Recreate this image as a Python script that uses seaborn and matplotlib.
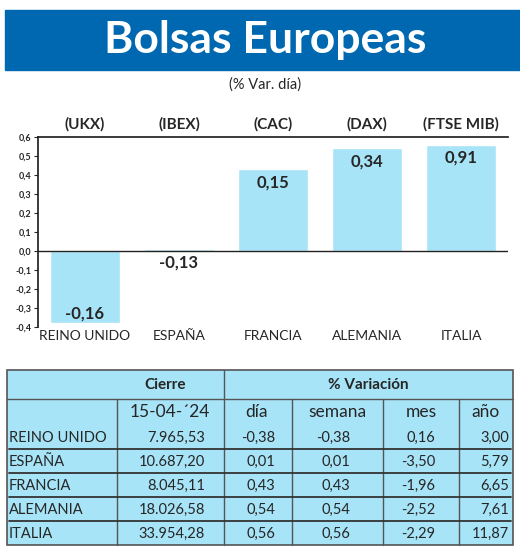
import matplotlib
matplotlib.use("Agg")
import matplotlib.pyplot as plt
import seaborn as sns
import pandas as pd
from matplotlib.patches import Rectangle

sns.set_theme(style="white")
plt.rcParams['font.family'] = ['Lato', 'DejaVu Sans']

countries = ["REINO UNIDO", "ESPAÑA", "FRANCIA", "ALEMANIA", "ITALIA"]
indices = ["(UKX)", "(IBEX)", "(CAC)", "(DAX)", "(FTSE MIB)"]
dia = [-0.38, 0.01, 0.43, 0.54, 0.56]
bar_labels = ["-0,16", "-0,13", "0,15", "0,34", "0,91"]
cierre = ["7.965,53", "10.687,20", "8.045,11", "18.026,58", "33.954,28"]
dia_txt = ["-0,38", "0,01", "0,43", "0,54", "0,56"]
semana = ["-0,38", "0,01", "0,43", "0,54", "0,56"]
mes = ["0,16", "-3,50", "-1,96", "-2,52", "-2,29"]
anio = ["3,00", "5,79", "6,65", "7,61", "11,87"]
yticks = [0.6, 0.5, 0.4, 0.3, 0.2, 0.1, 0.0, -0.1, -0.2, -0.3, -0.4]

W, H = 520, 550
fig = plt.figure(figsize=(W/100, H/100), dpi=100)
def fx(x): return x / W
def fy(y): return 1 - y / H

# title bar
fig.patches.append(Rectangle((fx(5), fy(70)), fx(515), 60/H, transform=fig.transFigure,
                             color="#0068b0", zorder=0))
fig.text(fx(265), fy(40), "Bolsas Europeas", color="white", fontsize=32, fontweight="bold",
         ha="center", va="center")
fig.text(fx(265), fy(85), "(% Var. día)", fontsize=10.5, ha="center", va="center")

ax = fig.add_axes([fx(38), fy(327), fx(508) - fx(38), (327 - 137) / H])
df = pd.DataFrame({"pais": countries, "dia": dia})
sns.barplot(data=df, x="pais", y="dia", color="#a8e4f7", width=0.75, ax=ax, saturation=1)
ax.set_ylim(-0.4, 0.6)
ax.set_yticks(yticks)
ax.set_yticklabels([f"{v:.1f}".replace(".", ",") for v in yticks], fontsize=6.5, fontweight="bold")
ax.tick_params(axis="y", length=3, width=0.8, left=True, pad=2)
ax.set_xlabel(""); ax.set_ylabel("")
ax.set_xticks([])
for s in ["right", "bottom"]:
    ax.spines[s].set_visible(False)
ax.spines["left"].set_color("#222"); ax.spines["top"].set_color("#222")
ax.axhline(0, color="#222", lw=1)
for i, (v, lab) in enumerate(zip(dia, bar_labels)):
    if v < 0:
        yy = v + 0.05
    elif v > 0.05:
        yy = v - 0.07
    else:
        yy = -0.06
    ax.text(i, yy, lab, ha="center", va="center", fontsize=12, fontweight="bold")
    ax.text(i, 0.665, indices[i], ha="center", va="center", fontsize=11, fontweight="bold", clip_on=False)
    ax.text(i, -0.45, countries[i], ha="center", va="center", fontsize=10, clip_on=False)

# table
tx0, tx1, ty0, ty1 = 7, 513, 370, 545
fig.patches.append(Rectangle((fx(tx0), fy(ty1)), fx(tx1 - tx0), (ty1 - ty0) / H,
                             transform=fig.transFigure, facecolor="#a8e4f7",
                             edgecolor="#555", lw=1.2, zorder=0))
def hline(y, x0=tx0, x1=tx1, c="#555", lw=1):
    fig.add_artist(plt.Line2D([fx(x0), fx(x1)], [fy(y), fy(y)], color=c, lw=lw))
def vline(x, y0, y1):
    fig.add_artist(plt.Line2D([fx(x), fx(x)], [fy(y0), fy(y1)], color="#555", lw=1))
hline(399)
vline(224, ty0, ty1)
for x in [117, 292, 383, 459]:
    vline(x, 399, ty1)
row_bot = [449 + 24 * i for i in range(5)]
for y in row_bot[:-1]:
    hline(y, x0=9, x1=511, c="#333", lw=1.3)
fig.text(fx(165), fy(385), "Cierre", fontsize=11, fontweight="bold", ha="center", va="center")
fig.text(fx(368), fy(385), "% Variación", fontsize=11, fontweight="bold", ha="center", va="center")
heads = [("15-04-´24", 170), ("día", 257), ("semana", 337), ("mes", 421), ("año", 486)]
for t, x in heads:
    fig.text(fx(x), fy(412), t, fontsize=12.5, ha="center", va="center")
for i in range(5):
    yc = fy(row_bot[i] - 11)
    fig.text(fx(9), yc, countries[i], fontsize=10.5, ha="left", va="center")
    for val, xr in [(cierre[i], 205), (dia_txt[i], 275), (semana[i], 350), (mes[i], 435), (anio[i], 509)]:
        fig.text(fx(xr), yc, val, fontsize=10.5, ha="right", va="center")

fig.savefig("out.png", dpi=100)
